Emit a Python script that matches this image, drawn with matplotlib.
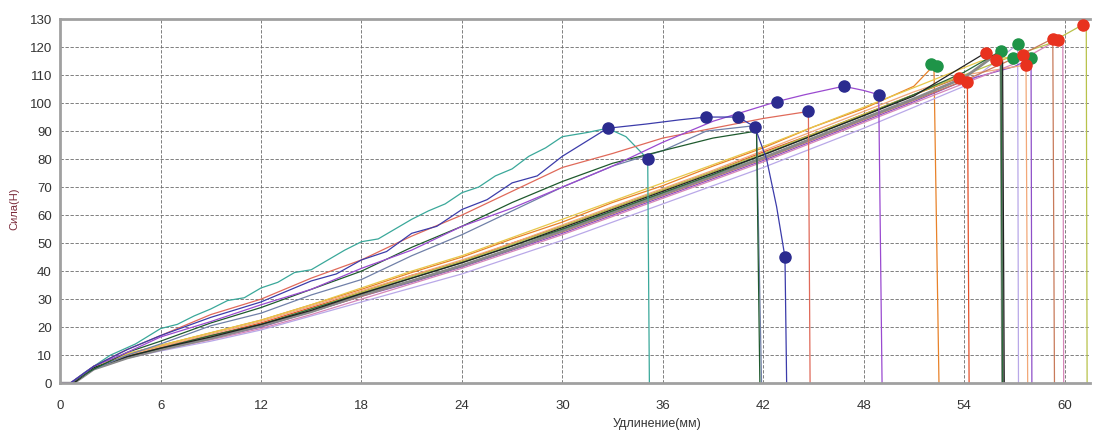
import matplotlib
matplotlib.use("Agg")
import matplotlib.pyplot as plt

plt.rcParams["font.family"] = ["Liberation Sans", "DejaVu Sans"]

# --- steep group (break early, blue markers) ---
TEAL_X = [0, 0.6, 1.5, 3, 4.5, 6, 7, 8, 9, 10, 11, 12, 13, 14, 15, 16, 17, 18, 19, 20, 21, 22, 23, 24, 25, 26, 27, 28, 29, 30, 31.5, 32.7, 33.8, 35.1, 35.2]
TEAL_Y = [0, 0, 4, 10, 14, 19.5, 21, 24, 26.5, 29.5, 30.5, 34, 36, 39.5, 40.5, 44, 47.5, 50.5, 51.5, 55, 58.5, 61.5, 64, 68, 70, 74, 76.5, 81, 84, 88, 89.5, 91, 88, 80, 0]

INDIGO_X = [0, 0.6, 2, 4, 6, 9, 12, 15, 16.5, 18, 19.5, 21, 22.5, 24, 25.5, 27, 28.5, 30, 32.7, 35, 37, 38.6, 40.5, 41.5, 42.2, 42.8, 43.3, 43.4]
INDIGO_Y = [0, 0, 6, 12, 17, 23.5, 29, 36.5, 39, 44, 47, 53.5, 56, 62, 65.5, 71.5, 74, 81, 91, 92.5, 94, 95, 95, 91.5, 80, 63, 45, 0]

PURPLE_X = [0, 0.6, 2, 4, 6, 9, 12, 15, 18, 21, 24, 27, 30, 33, 36, 39, 42.8, 44.5, 46.8, 48, 48.9, 49.1]
PURPLE_Y = [0, 0, 6, 11, 16.5, 22, 28, 33.5, 41, 47.5, 56, 62.5, 70, 77.5, 86, 93.5, 100.5, 103, 106, 104.5, 103, 0]

PINK_X = [0, 0.6, 2, 4, 6, 9, 12, 15, 18, 21, 24, 27, 30, 33, 36, 39, 42, 44.7, 44.8]
PINK_Y = [0, 0, 6, 12, 17, 24.5, 30, 37.5, 44, 52.5, 60, 68.5, 77, 82, 87.5, 91, 94.5, 97, 0]

DGREEN_X = [0, 0.6, 2, 4, 6, 9, 12, 15, 18, 21, 24, 27, 30, 33, 36, 39, 41.6, 41.8]
DGREEN_Y = [0, 0, 5, 11, 15, 21.5, 27, 33.5, 40, 48.5, 56, 64.5, 72, 78.5, 83, 87.5, 90, 0]

SLATE_X = [0, 0.6, 2, 4, 6, 9, 12, 15, 18, 21, 24, 27, 30, 33, 36, 38.6, 41.6, 41.9]
SLATE_Y = [0, 0, 5, 10, 14, 20.5, 25, 31.5, 37, 45.5, 53, 61.5, 70, 77.5, 83, 90, 92, 0]

# --- lower group (shared x grid, then peak and break) ---
LOW_X = [0, 0.8, 2, 4, 6, 9, 12, 15, 18, 21, 24, 27, 30, 33, 36, 39, 42, 45, 48, 51]
ORANGE_Y = [0, 0, 6, 10.5, 13.5, 18, 22.5, 28, 33.5, 39.5, 45, 51.5, 57.5, 64.5, 70.5, 77.5, 84, 91.5, 98, 106]
REDOR_Y = [0, 0, 5.5, 10, 13, 17, 21.5, 27, 32.5, 38.5, 43.5, 50, 56, 62.5, 69, 75.5, 82.5, 89, 96, 103]
GRAY_Y = [0, 0, 5, 9, 12, 16, 20.5, 25.5, 31.5, 36.5, 42, 48, 54.5, 61, 67.5, 74, 80.5, 87.5, 94.5, 101.5]
BLACK_Y = [0, 0, 5.5, 9.5, 12.5, 16.5, 21, 26, 32, 37.5, 43, 49, 55.5, 62, 68.5, 75, 81.5, 88.5, 95.5, 102.5]
LAVENDER_Y = [0, 0, 5, 9, 11.5, 15, 19, 24, 29, 34, 39, 45, 51, 57.5, 64, 70.5, 77, 84, 91, 98.5]
VIOLET_Y = [0, 0, 5, 9, 12, 16, 20, 25.5, 31, 36, 41.5, 47.5, 53.5, 60, 66.5, 73, 79.5, 86.5, 93.5, 100.5]
PEACH_Y = [0, 0, 6, 10, 13, 17.5, 22, 27.5, 33, 38.5, 44, 50, 56.5, 63, 69.5, 76, 83, 90, 97, 104]
ROSE_Y = [0, 0, 5, 9, 12, 15.5, 19.5, 24.5, 30, 35.5, 41, 47, 53, 59.5, 66, 72.5, 79, 86, 93, 100]
OLIVE_Y = [0, 0, 5.5, 9.5, 12.5, 16.5, 21, 26.5, 32.5, 38, 43.5, 49.5, 56, 62.5, 69, 75.5, 82, 89, 96, 103]
FGREEN_Y = [0, 0, 5.5, 9.5, 12.5, 17, 21, 26.5, 32, 37.5, 43, 49, 55, 61.5, 68, 74.5, 81.5, 88.5, 95.5, 103]
YELLOW_Y = [0, 0, 6, 10.5, 13.5, 18, 22.5, 28, 34, 40, 45.5, 52, 58.5, 65, 71.5, 78, 84.5, 91.5, 98.5, 105.5]
SALMON_Y = [0, 0, 5, 9, 12, 16, 20.5, 25.5, 31, 36.5, 42, 48, 54, 60.5, 67, 73.5, 80, 87, 94, 101]

# tail points (x, y) after the shared grid; last point is the break to zero
ORANGE_TAIL = ([52.2, 52.5], [113.5, 0])
REDOR_TAIL = ([53.7, 54.2, 54.3], [109, 107.5, 0])
GRAY_TAIL = ([54, 56.2, 56.3], [109, 118.6, 0])
BLACK_TAIL = ([55.3, 56.3, 56.4], [118, 115, 0])
LAVENDER_TAIL = ([54, 57.2, 57.25], [106, 121, 0])
VIOLET_TAIL = ([54, 57, 58, 58.05], [108, 113, 116, 0])
PEACH_TAIL = ([54, 57.7, 57.8], [110, 113.6, 0])
ROSE_TAIL = ([54, 57, 59.6, 59.9, 59.95], [107, 114, 122.5, 121, 0])
OLIVE_TAIL = ([54, 57, 59, 61.1, 61.3, 61.35], [110, 117, 121, 128, 126, 0])
FGREEN_TAIL = ([54, 56.2, 56.3], [111, 118.6, 0])
YELLOW_TAIL = ([55, 57.5], [115, 117])
SALMON_TAIL = ([54, 57, 59.3, 59.4], [108, 116, 123, 0])

# markers
BLUE_X = [32.7, 35.1, 38.6, 40.5, 41.5, 42.8, 44.7, 46.8, 48.9, 43.3]
BLUE_Y = [91, 80, 95, 95, 91.5, 100.5, 97, 106, 103, 45]
GREEN_X = [52.0, 52.4, 56.2, 56.9, 57.2, 58.0]
GREEN_Y = [113.8, 113.2, 118.6, 116, 121, 116]
RED_X = [53.7, 54.2, 55.3, 55.9, 57.5, 57.7, 59.3, 59.6, 61.1]
RED_Y = [109, 107.5, 118, 115.5, 117, 113.6, 123, 122.5, 128]

X_TICKS = list(range(0, 61, 6))
Y_TICKS = list(range(0, 131, 10))

fig = plt.figure(figsize=(10.94, 4.32), dpi=100)
ax = fig.add_axes([0.055, 0.113, 0.941, 0.843])

ax.grid(True, color="#6a6a6a", linestyle=(0, (4, 2)), linewidth=0.6)
ax.set_axisbelow(True)

lower = [
    (ORANGE_Y, ORANGE_TAIL, "#e8822a", 0.9),
    (REDOR_Y, REDOR_TAIL, "#e4502a", 0.9),
    (LAVENDER_Y, LAVENDER_TAIL, "#b9a8e8", 0.9),
    (VIOLET_Y, VIOLET_TAIL, "#8e4fc8", 0.9),
    (PEACH_Y, PEACH_TAIL, "#f2a878", 0.9),
    (ROSE_Y, ROSE_TAIL, "#d686b8", 0.9),
    (OLIVE_Y, OLIVE_TAIL, "#b8c24a", 0.9),
    (YELLOW_Y, YELLOW_TAIL, "#e8c84a", 0.9),
    (SALMON_Y, SALMON_TAIL, "#c87a5a", 0.9),
    (GRAY_Y, GRAY_TAIL, "#8a8a8a", 2.0),
    (FGREEN_Y, FGREEN_TAIL, "#2a6a3a", 0.9),
    (BLACK_Y, BLACK_TAIL, "#222222", 0.9),
]
for ys, (tx, ty), col, lw in lower:
    ax.plot(LOW_X + tx, ys + ty, color=col, lw=lw)

steep = [
    (TEAL_X, TEAL_Y, "#3aa89a"),
    (SLATE_X, SLATE_Y, "#7080a8"),
    (DGREEN_X, DGREEN_Y, "#1f5a2e"),
    (PINK_X, PINK_Y, "#e06a5a"),
    (PURPLE_X, PURPLE_Y, "#9a4ad0"),
    (INDIGO_X, INDIGO_Y, "#3c3caa"),
]
for xs, ys, col in steep:
    ax.plot(xs, ys, color=col, lw=0.9)

ax.plot(BLUE_X, BLUE_Y, "o", color="#2b2b8f", ms=8, zorder=5)
ax.plot(GREEN_X, GREEN_Y, "o", color="#1e9448", ms=8, zorder=5)
ax.plot(RED_X, RED_Y, "o", color="#e8321e", ms=8, zorder=5)

ax.set_xlim(0, 61.5)
ax.set_ylim(0, 130)
ax.set_xticks(X_TICKS)
ax.set_yticks(Y_TICKS)
ax.tick_params(length=0, labelsize=9.5, labelcolor="#333333")
ax.tick_params(axis="x", pad=12)
ax.tick_params(axis="y", pad=6)

for side in ("left", "bottom", "top"):
    ax.spines[side].set_color("#a0a0a0")
    ax.spines[side].set_linewidth(2)
ax.spines["right"].set_visible(False)

ax.set_xlabel("Удлинение(мм)", fontsize=9, color="#333333")
ax.xaxis.set_label_coords(0.58, -0.095)
ax.set_ylabel("Сила(Н)", fontsize=8, color="#7a2a3a")
ax.yaxis.set_label_coords(-0.040, 0.48)

fig.savefig("out.png", dpi=100)
